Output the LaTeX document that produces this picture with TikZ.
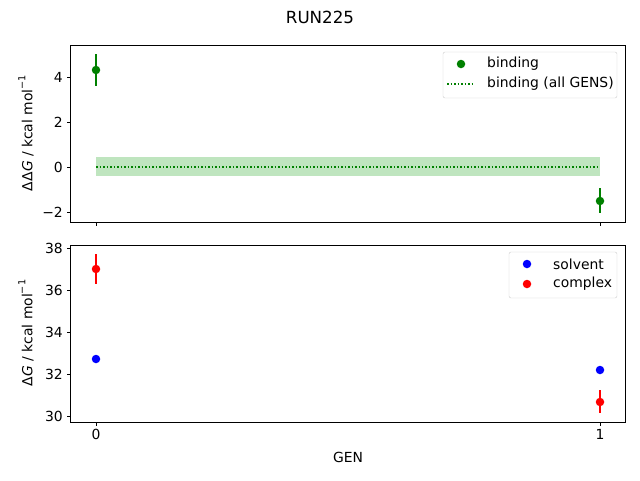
\documentclass[tikz,border=0pt]{standalone}
\usepackage{fontspec}
\setmainfont{DejaVu Sans}
\newcommand{\kcal}{kcal mol\raisebox{0.9ex}{\fontsize{9.7}{10}\selectfont −1}}
\begin{document}
\begin{tikzpicture}[x=1pt,y=-1pt,
  lab/.style={font=\fontsize{13.9}{16}\selectfont, inner sep=0pt},
  tick/.style={font=\fontsize{13.9}{16}\selectfont, inner sep=0pt},
  ax/.style={draw=black, line width=0.8pt},
  dotg/.style={circle, fill=green!50!black, inner sep=0pt, minimum size=8.5pt},
  dotb/.style={circle, fill=blue, inner sep=0pt, minimum size=8.5pt},
  dotr/.style={circle, fill=red, inner sep=0pt, minimum size=8.5pt},
  err/.style={line width=1.5pt}]
\useasboundingbox (0,0) rectangle (640,480);
\node[lab, font=\fontsize{16.7}{19}\selectfont] (title) at (320,17) {RUN225};
% top axes
\fill[green!60!black, opacity=0.25] (96,157) rectangle (600,176);
\draw[green!50!black, dotted, line width=1.5pt] (96,167) -- (600,167);
\draw[ax] (70,45) rectangle (625,222);
\foreach \v/\y in {4/77,2/122,0/167,−2/212}{
  \draw[line width=0.8pt] (70,\y) -- (66.5,\y);
  \node[tick, anchor=east] at (63,\y) {\v};}
\foreach \x in {96,600}{\draw[line width=0.8pt] (\x,222) -- (\x,225.5);}
\draw[err, green!50!black] (96,54) -- (96,86);
\draw[err, green!50!black] (600,188) -- (600,213);
\node[dotg] (g0) at (96,70) {};
\node[dotg] (g1) at (600,201) {};
\node[lab, rotate=90] (yl1) at (26,133) {ΔΔ\textit{G} / \kcal};
% legend top
\draw[rounded corners=2pt, draw=black!20, fill=white, fill opacity=0.8] (443,52) rectangle (617,98);
\node[dotg] (lg) at (461,64) {};
\draw[green!50!black, dotted, line width=1.5pt] (447,84) -- (475,84);
\node[lab, anchor=west] at (487,64) {binding};
\node[lab, anchor=west] at (487,84) {binding (all GENS)};
% bottom axes
\draw[ax] (70,245) rectangle (625,422);
\foreach \v/\y in {38/248,36/290,34/332,32/374,30/416}{
  \draw[line width=0.8pt] (70,\y) -- (66.5,\y);
  \node[tick, anchor=east] at (63,\y) {\v};}
\foreach \x/\t in {96/0,600/1}{\draw[line width=0.8pt] (\x,422) -- (\x,425.5);
  \node[tick, anchor=north] at (\x,429) {\t};}
\node[dotb] (s0) at (96,359) {};
\node[dotb] (s1) at (600,370) {};
\draw[err, red] (96,254) -- (96,284);
\draw[err, red] (600,390) -- (600,413);
\node[dotr] (c0) at (96,269) {};
\node[dotr] (c1) at (600,402) {};
\node[lab, rotate=90] (yl2) at (26,333) {Δ\textit{G} / \kcal};
\node[lab] (xl) at (348,457) {GEN};
% legend bottom
\draw[rounded corners=2pt, draw=black!20, fill=white, fill opacity=0.8] (509,252) rectangle (617,298);
\node[dotb] (lb) at (527,264) {};
\node[dotr] (lr) at (527,284) {};
\node[lab, anchor=west] at (553,264) {solvent};
\node[lab, anchor=west] at (553,284) {complex};
\end{tikzpicture}
\end{document}
